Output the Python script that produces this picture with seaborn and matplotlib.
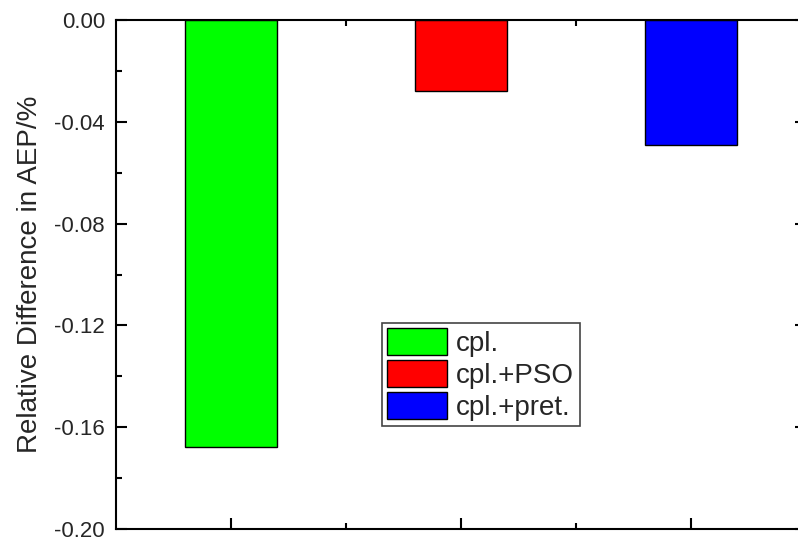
import seaborn as sns
import matplotlib.pyplot as plt
from matplotlib.ticker import MultipleLocator, FuncFormatter
import pandas as pd

# data
methods = ['cpl.', 'cpl.+PSO', 'cpl.+pret.']
rel_diff = [-0.1676, -0.0278, -0.0493]
colors = ['#00ff00', '#ff0000', '#0000ff']

df = pd.DataFrame({'method': methods, 'diff': rel_diff})

sns.set_style('ticks')
plt.rcParams['font.family'] = ['Liberation Sans', 'DejaVu Sans']

fig = plt.figure(figsize=(7.98, 5.43), dpi=100)
ax = fig.add_axes([116 / 798, 1 - 529 / 543, 690 / 798, 509 / 543])

sns.barplot(data=df, x='method', y='diff', hue='method', palette=colors,
            saturation=1, width=0.4, edgecolor='black', linewidth=1,
            legend=True, ax=ax)

ax.set_xlim(-0.5, 2.5)
ax.set_ylim(-0.2, 0.0)
ax.yaxis.set_major_locator(MultipleLocator(0.04))
ax.yaxis.set_minor_locator(MultipleLocator(0.02))
ax.yaxis.set_major_formatter(FuncFormatter(lambda v, p: '%.2f' % v if abs(v) > 1e-9 else '0.00'))
ax.set_xticks([0, 1, 2])
ax.set_xticks([0.5, 1.5], minor=True)
ax.set_xticklabels([])
ax.set_xlabel('')
ax.set_ylabel('Relative Difference in AEP/%', fontsize=20, labelpad=8)

for s in ax.spines.values():
    s.set_linewidth(1.5)
    s.set_color('black')
ax.tick_params(which='both', direction='in', top=True, right=True,
               width=1.5, labelsize=16, color='black')
ax.tick_params(which='major', length=8)
ax.tick_params(which='minor', length=4)
ax.tick_params(axis='y', pad=8)

leg = ax.legend(loc='upper left', bbox_to_anchor=(0.385, 0.405), fontsize=20,
                handlelength=2.16, handleheight=1.08, labelspacing=0.12,
                handletextpad=0.32, borderpad=0.2, borderaxespad=0,
                fancybox=False, framealpha=1, edgecolor='#444444')
leg.get_frame().set_linewidth(1.2)

fig.savefig('out.png', dpi=100)
